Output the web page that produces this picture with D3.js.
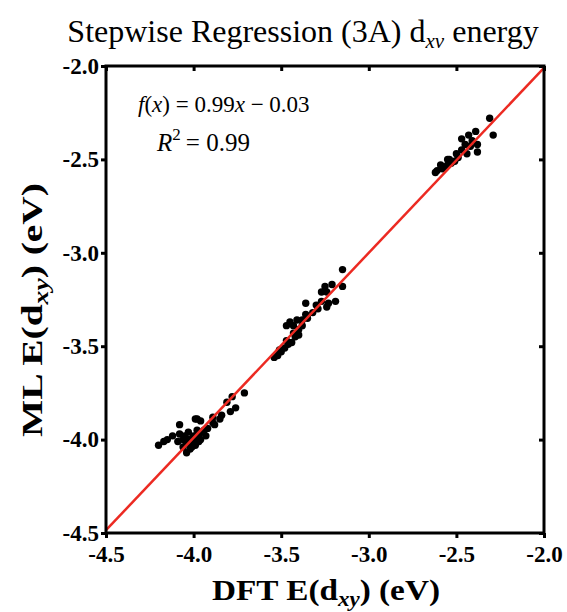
<!DOCTYPE html>
<html>
<head>
<meta charset="utf-8">
<script src="https://cdn.jsdelivr.net/npm/d3@7"></script>
<style>
  body { margin: 0; background: #fff; }
  svg { display: block; }
  text { font-family: 'Liberation Serif', 'DejaVu Serif', 'Times New Roman', Times, serif; }
</style>
</head>
<body>
<div id="chart"></div>
<script>
// DFT vs ML energies (eV)
var dftValues = [
    -2.31, -2.29, -2.39, -2.43, -2.47, -2.38, -2.38, -2.42, -2.44, -2.49, -2.51, -2.53,
    -2.55, -2.57, -2.58, -2.61, -2.59, -2.55, -2.47, -2.41, -2.45, -2.54, -2.62, -2.50,
    -3.15, -3.15, -3.21, -3.25, -3.27, -3.24, -3.19, -3.23, -3.27, -3.36, -3.24, -3.29,
    -3.32, -3.35, -3.38, -3.41, -3.45, -3.47, -3.43, -3.40, -3.40, -3.42, -3.44, -3.46,
    -3.48, -3.50, -3.52, -3.54, -3.30, -3.36, -3.43, -3.47, -3.51, -3.38,
    -4.20, -4.17, -4.15, -4.12, -4.08, -4.08, -4.03, -4.06, -4.02, -3.98, -3.99, -3.96,
    -3.89, -3.84, -3.79, -3.76, -3.81, -3.78, -3.71, -3.89, -3.92, -3.95, -3.97, -4.00,
    -4.04, -4.06, -4.04, -3.99, -3.96, -4.01, -3.99, -4.05, -4.09, -3.93, -3.88, -3.85,
    -4.00, -3.97, -4.02, -3.94, -3.98, -4.03
];
var mlValues = [
    -2.28, -2.37, -2.35, -2.37, -2.39, -2.42, -2.46, -2.43, -2.47, -2.49, -2.51, -2.52,
    -2.53, -2.54, -2.55, -2.56, -2.53, -2.50, -2.45, -2.40, -2.42, -2.50, -2.57, -2.47,
    -3.09, -3.18, -3.17, -3.18, -3.21, -3.21, -3.26, -3.27, -3.26, -3.27, -3.29, -3.30,
    -3.32, -3.35, -3.36, -3.36, -3.37, -3.39, -3.39, -3.41, -3.44, -3.45, -3.48, -3.49,
    -3.51, -3.53, -3.55, -3.56, -3.28, -3.33, -3.43, -3.47, -3.52, -3.39,
    -4.03, -4.01, -4.00, -3.98, -3.97, -3.92, -3.96, -4.00, -4.00, -3.89, -3.89, -3.90,
    -3.88, -3.87, -3.85, -3.83, -3.80, -3.77, -3.75, -3.91, -3.94, -3.96, -3.98, -3.98,
    -4.02, -4.04, -4.07, -4.03, -4.00, -4.04, -4.01, -3.98, -4.01, -3.98, -3.92, -3.89,
    -4.02, -4.01, -4.05, -3.95, -3.95, -4.00
];
var tickValues = [-4.5, -4.0, -3.5, -3.0, -2.5, -2.0];
var fitSlope = 0.99;
var fitIntercept = -0.03;
var fitR2 = 0.99;

var width = 567, height = 612;
var margin = { top: 66, right: 23, bottom: 79, left: 106 };

var svg = d3.select('#chart').append('svg')
    .attr('width', width)
    .attr('height', height);

var x = d3.scaleLinear().domain([-4.5, -2.0]).range([margin.left, width - margin.right]);
var y = d3.scaleLinear().domain([-4.5, -2.0]).range([height - margin.bottom, margin.top]);

var fmt = function (d) { return d.toFixed(1); };

// title
var title = svg.append('text')
    .attr('x', 303)
    .attr('y', 42)
    .attr('text-anchor', 'middle')
    .style('font-size', '32px');
title.append('tspan').text('Stepwise Regression (3A) d');
title.append('tspan').attr('dy', 6).style('font-size', '21px').style('font-style', 'italic').text('xv');
title.append('tspan').attr('dy', -6).text(' energy');

// axes
function styleAxis(g) {
    g.select('.domain').remove();
    g.attr('font-family', null);
    g.selectAll('.tick line').attr('stroke', '#000').attr('stroke-width', 3);
    g.selectAll('.tick text')
        .style('font-weight', 'bold')
        .style('font-size', '23px')
        .attr('fill', '#000');
}

svg.append('g')
    .attr('transform', 'translate(0,' + (height - margin.bottom) + ')')
    .call(d3.axisBottom(x).tickValues(tickValues).tickFormat(fmt).tickSize(5).tickPadding(8))
    .call(styleAxis);

svg.append('g')
    .attr('transform', 'translate(' + margin.left + ',0)')
    .call(d3.axisLeft(y).tickValues(tickValues).tickFormat(fmt).tickSize(5).tickPadding(2))
    .call(styleAxis);

svg.append('g')
    .attr('transform', 'translate(0,' + margin.top + ')')
    .call(d3.axisBottom(x).tickValues(tickValues).tickFormat('').tickSize(5))
    .call(styleAxis);

svg.append('g')
    .attr('transform', 'translate(' + (width - margin.right) + ',0)')
    .call(d3.axisRight(y).tickValues(tickValues).tickFormat('').tickSize(-5))
    .call(styleAxis);

// points
svg.append('g').selectAll('circle')
    .data(dftValues)
    .enter()
    .append('circle')
    .attr('cx', function (d) { return x(d); })
    .attr('cy', function (d, i) { return y(mlValues[i]); })
    .attr('r', 3.7)
    .attr('fill', '#000');

// fit line
var xDom = x.domain();
svg.append('line')
    .attr('x1', x(xDom[0]))
    .attr('y1', y(fitSlope * xDom[0] + fitIntercept))
    .attr('x2', x(xDom[1]))
    .attr('y2', y(fitSlope * xDom[1] + fitIntercept))
    .attr('stroke', '#ec2a22')
    .attr('stroke-width', 2.5);

// frame
svg.append('rect')
    .attr('x', margin.left)
    .attr('y', margin.top)
    .attr('width', width - margin.left - margin.right)
    .attr('height', height - margin.top - margin.bottom)
    .attr('fill', 'none')
    .attr('stroke', '#000')
    .attr('stroke-width', 3);

// annotation
var eq = svg.append('text')
    .attr('x', 138)
    .attr('y', 112)
    .style('font-size', '23px');
eq.append('tspan').style('font-style', 'italic').text('f');
eq.append('tspan').text('(');
eq.append('tspan').style('font-style', 'italic').text('x');
eq.append('tspan').text(') = ' + fitSlope.toFixed(2));
eq.append('tspan').style('font-style', 'italic').text('x');
eq.append('tspan').text(' \u2212 ' + Math.abs(fitIntercept).toFixed(2));

var r2 = svg.append('text')
    .attr('x', 157)
    .attr('y', 151)
    .style('font-size', '25px');
r2.append('tspan').style('font-style', 'italic').text('R');
r2.append('tspan').attr('dy', -11).style('font-size', '17px').text('2');
r2.append('tspan').attr('dy', 11).attr('dx', 5).text('= ' + fitR2.toFixed(2));

// axis labels
var xl = svg.append('text')
    .attr('x', 212)
    .attr('y', 600)
    .attr('textLength', 228)
    .attr('lengthAdjust', 'spacingAndGlyphs')
    .style('font-weight', 'bold')
    .style('font-size', '29px');
xl.append('tspan').text('DFT E(d');
xl.append('tspan').attr('dy', 6).style('font-size', '20px').style('font-style', 'italic').text('xy');
xl.append('tspan').attr('dy', -6).text(') (eV)');

var yl = svg.append('text')
    .attr('transform', 'translate(42,437) rotate(-90)')
    .attr('textLength', 254)
    .attr('lengthAdjust', 'spacingAndGlyphs')
    .style('font-weight', 'bold')
    .style('font-size', '30px');
yl.append('tspan').text('ML E(d');
yl.append('tspan').attr('dy', 6).style('font-size', '21px').style('font-style', 'italic').text('xy');
yl.append('tspan').attr('dy', -6).text(') (eV)');
</script>
</body>
</html>
